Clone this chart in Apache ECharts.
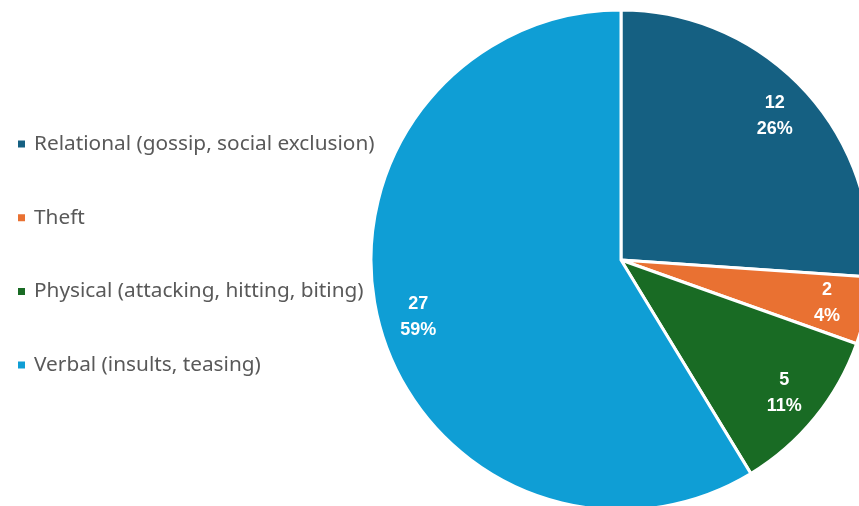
<!DOCTYPE html>
<html>
<head>
<meta charset="utf-8">
<script src="https://cdn.jsdelivr.net/npm/echarts@6/dist/echarts.min.js"></script>
<style>html,body{margin:0;padding:0;background:#fff;}#c{width:859px;height:506px;}</style>
</head>
<body>
<div id="c"></div>
<script>
const categories = ['Relational (gossip, social exclusion)', 'Theft', 'Physical (attacking, hitting, biting)', 'Verbal (insults, teasing)'];
const values = [12, 2, 5, 27];
const colors = ['#156082', '#E97132', '#196B24', '#0F9ED5'];

const total = values.reduce((a, b) => a + b, 0);
const data = categories.map((name, i) => ({ name, value: values[i], itemStyle: { color: colors[i] } }));

const chart = echarts.init(document.getElementById('c'), null, { renderer: 'canvas' });
chart.setOption({
  animation: false,
  legend: {
    orient: 'vertical',
    left: 16,
    top: 133,
    padding: 0,
    icon: 'rect',
    itemWidth: 9,
    itemHeight: 9,
    itemGap: 51.7,
    data: categories,
    textStyle: { fontFamily: 'Noto Sans', fontSize: 20.8, color: '#595959', lineHeight: 22, padding: [0, 0, 0, 3] }
  },
  series: [
    {
      type: 'pie',
      center: [621, 260],
      radius: [0, 250],
      startAngle: 90,
      clockwise: true,
      data: data,
      label: { show: false },
      labelLine: { show: false },
      itemStyle: { borderColor: '#fff', borderWidth: 3 },
      emphasis: { disabled: true }
    },
    {
      type: 'pie',
      center: [621, 260],
      radius: [165, 250],
      startAngle: 90,
      clockwise: true,
      silent: true,
      data: data.map(d => ({ name: d.name, value: d.value })),
      itemStyle: { color: 'rgba(0,0,0,0)', borderWidth: 0 },
      label: {
        show: true,
        position: 'inside',
        formatter: p => p.value + '\n' + Math.round(p.value / total * 100) + '%',
        color: '#fff',
        fontFamily: 'Liberation Sans',
        fontWeight: 'bold',
        fontSize: 18,
        lineHeight: 26
      },
      labelLine: { show: false },
      emphasis: { disabled: true }
    }
  ]
});
</script>
</body>
</html>
